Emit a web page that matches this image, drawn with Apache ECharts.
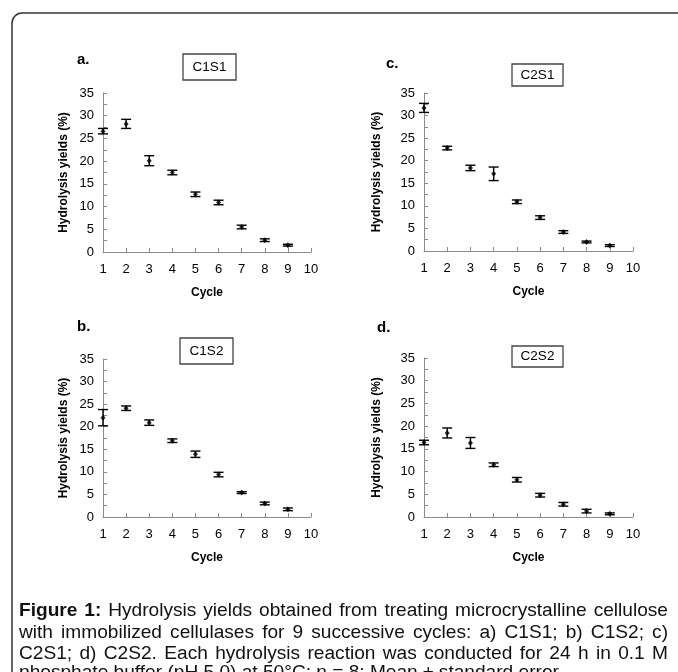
<!DOCTYPE html>
<html><head><meta charset="utf-8">
<script src="https://cdn.jsdelivr.net/npm/echarts@6/dist/echarts.min.js"></script>
<style>html,body{margin:0;padding:0;background:#fff}#c{width:678px;height:672px}</style>
</head><body><div id="c"></div>
<script>
// ---- data ----
const cycles = [1, 2, 3, 4, 5, 6, 7, 8, 9];
const yieldC1S1 = [26.6, 28.2, 20.1, 17.5, 12.7, 10.9, 5.5, 2.6, 1.5];
const errC1S1   = [0.6, 1.0, 1.1, 0.5, 0.5, 0.5, 0.4, 0.3, 0.2];
const yieldC1S2 = [22.0, 24.1, 20.9, 16.9, 13.9, 9.4, 5.4, 3.0, 1.7];
const errC1S2   = [1.8, 0.5, 0.6, 0.4, 0.7, 0.5, 0.2, 0.3, 0.3];
const yieldC2S1 = [31.7, 22.8, 18.4, 17.1, 10.9, 7.4, 4.2, 2.0, 1.2];
const errC2S1   = [1.0, 0.4, 0.6, 1.5, 0.4, 0.4, 0.3, 0.2, 0.2];
const yieldC2S2 = [16.4, 18.5, 16.3, 11.5, 8.2, 4.8, 2.8, 1.3, 0.7];
const errC2S2   = [0.5, 1.1, 1.2, 0.4, 0.5, 0.4, 0.4, 0.4, 0.2];
const panelNames = ['C1S1', 'C2S1', 'C1S2', 'C2S2'];
const panelLetters = ['a.', 'c.', 'b.', 'd.'];
const xAxisTitle = 'Cycle';
const yAxisTitle = 'Hydrolysis yields (%)';
const captionBold = 'Figure 1:';
const captionLines = [
  'Hydrolysis yields obtained from treating microcrystalline cellulose',
  'with immobilized cellulases for 9 successive cycles: a) C1S1; b) C1S2; c)',
  'C2S1; d) C2S2. Each hydrolysis reaction was conducted for 24 h in 0.1 M',
  'phosphate buffer (pH 5.0) at 50\u00B0C; n = 8; Mean \u00B1 standard error.'
];

// ---- layout / style ----
const FONT = "'Liberation Sans', Arial, sans-serif";
const AXIS_COLOR = '#8a8a8a';
const panels = [
  {means: yieldC1S1, errs: errC1S1, grid: {left: 103, top: 93, width: 208, height: 159}, letter: [77, 60], box: [183, 54, 53, 26], gapY: 33},
  {means: yieldC2S1, errs: errC2S1, grid: {left: 424, top: 93, width: 209, height: 158}, letter: [386, 64], box: [512, 64, 51, 22], gapY: 41},
  {means: yieldC1S2, errs: errC1S2, grid: {left: 103, top: 359, width: 208, height: 158}, letter: [77, 327], box: [180, 338, 53, 26], gapY: 33},
  {means: yieldC2S2, errs: errC2S2, grid: {left: 424, top: 358, width: 209, height: 159}, letter: [377, 328], box: [512, 346, 51, 21], gapY: 41}
];

function renderErr(params, api) {
  const x = api.value(0), lo = api.value(1), hi = api.value(2);
  const pHi = api.coord([x, hi]), pLo = api.coord([x, lo]);
  const hw = 5;
  const st = {stroke: '#000', lineWidth: 1.4};
  return {type: 'group', children: [
    {type: 'line', shape: {x1: pHi[0], y1: pHi[1], x2: pLo[0], y2: pLo[1]}, style: st},
    {type: 'line', shape: {x1: pHi[0] - hw, y1: pHi[1], x2: pHi[0] + hw, y2: pHi[1]}, style: st},
    {type: 'line', shape: {x1: pLo[0] - hw, y1: pLo[1], x2: pLo[0] + hw, y2: pLo[1]}, style: st}
  ]};
}

const grids = [], xAxes = [], yAxes = [], series = [], graphics = [];
panels.forEach((p, i) => {
  grids.push(Object.assign({containLabel: false}, p.grid));
  xAxes.push({
    type: 'value', gridIndex: i, min: 1, max: 10, interval: 1,
    axisLine: {onZero: false, lineStyle: {color: AXIS_COLOR, width: 1}},
    axisTick: {inside: true, length: 4, lineStyle: {color: AXIS_COLOR}},
    axisLabel: {color: '#000', fontSize: 13, fontFamily: FONT, margin: 11},
    splitLine: {show: false},
    name: xAxisTitle, nameLocation: 'middle', nameGap: 35,
    nameTextStyle: {color: '#000', fontSize: 12, fontWeight: 'bold', fontFamily: FONT}
  });
  yAxes.push({
    type: 'value', gridIndex: i, min: 0, max: 35, interval: 5,
    axisLine: {show: true, onZero: false, lineStyle: {color: AXIS_COLOR, width: 1}},
    axisTick: {show: true, inside: true, length: 4, lineStyle: {color: AXIS_COLOR}},
    minorTick: {show: true, splitNumber: 2, length: 4, lineStyle: {color: AXIS_COLOR}},
    axisLabel: {color: '#000', fontSize: 13, fontFamily: FONT, margin: 9},
    splitLine: {show: false},
    name: yAxisTitle, nameLocation: 'middle', nameGap: p.gapY,
    nameTextStyle: {color: '#000', fontSize: 12, fontWeight: 'bold', fontFamily: FONT}
  });
  const errData = cycles.map((c, k) => [c, p.means[k] - p.errs[k], p.means[k] + p.errs[k]]);
  series.push({
    type: 'custom', xAxisIndex: i, yAxisIndex: i, renderItem: renderErr,
    data: errData, silent: true, z: 2
  });
  series.push({
    type: 'scatter', xAxisIndex: i, yAxisIndex: i, symbol: 'diamond', symbolSize: [5, 6],
    itemStyle: {color: '#000'}, data: cycles.map((c, k) => [c, p.means[k]]), z: 3, silent: true
  });
  graphics.push({
    type: 'text', left: p.letter[0], top: p.letter[1] - 8,
    style: {text: panelLetters[i], font: 'bold 15px ' + FONT, fill: '#000'}
  });
  graphics.push({
    type: 'rect', shape: {x: p.box[0], y: p.box[1], width: p.box[2], height: p.box[3]},
    style: {fill: '#fff', stroke: '#444', lineWidth: 1.3}
  });
  graphics.push({
    type: 'text', x: p.box[0] + p.box[2] / 2, y: p.box[1] + p.box[3] / 2,
    style: {text: panelNames[i], font: '13.5px ' + FONT, fill: '#000', align: 'center', verticalAlign: 'middle'}
  });
});

// outer frame
graphics.push({
  type: 'rect', shape: {x: 12, y: 13, width: 700, height: 720, r: 10},
  style: {fill: 'none', stroke: '#333', lineWidth: 1.5}
});

// caption, justified using measured word widths
(function () {
  const cv = document.createElement('canvas').getContext('2d');
  let fam = "'Liberation Sans Narrow'";
  cv.font = '100px ' + fam + ', monospace';
  const a = cv.measureText('abcdefghijklmnopqrstuvwxyz').width;
  cv.font = '100px monospace';
  const b = cv.measureText('abcdefghijklmnopqrstuvwxyz').width;
  if (Math.abs(a - b) < 0.5) fam = "'Liberation Sans'";
  fam = fam + ', Arial, sans-serif';
  cv.font = 'bold 100px ' + fam;
  const wb = cv.measureText(captionBold + ' ').width;
  cv.font = '100px ' + fam;
  const w100 = wb + cv.measureText(captionLines[0]).width;
  const fs = 100 * 636 / w100;
  const reg = fs.toFixed(2) + 'px ' + fam;
  const bold = 'bold ' + reg;
  const leftX = 19, rightX = 668;
  const lineY = [611, 632.5, 654, 673];
  captionLines.forEach((line, li) => {
    let words = line.split(' ').map(t => ({t, f: reg}));
    if (li === 0) words = captionBold.split(' ').map(t => ({t, f: bold})).concat(words);
    words.forEach(w => { cv.font = w.f; w.w = cv.measureText(w.t).width; });
    const total = words.reduce((s, w) => s + w.w, 0);
    cv.font = reg;
    let gap = cv.measureText(' ').width;
    if (li < captionLines.length - 1) gap = (rightX - leftX - total) / (words.length - 1);
    let x = leftX;
    words.forEach(w => {
      graphics.push({type: 'text', x: x, y: lineY[li],
        style: {text: w.t, font: w.f, fill: '#111', align: 'left', verticalAlign: 'middle'}});
      x += w.w + gap;
    });
  });
})();

const chart = echarts.init(document.getElementById('c'), null, {renderer: 'canvas'});
chart.setOption({
  animation: false,
  backgroundColor: '#fff',
  grid: grids, xAxis: xAxes, yAxis: yAxes, series: series,
  graphic: graphics
});
</script></body></html>
